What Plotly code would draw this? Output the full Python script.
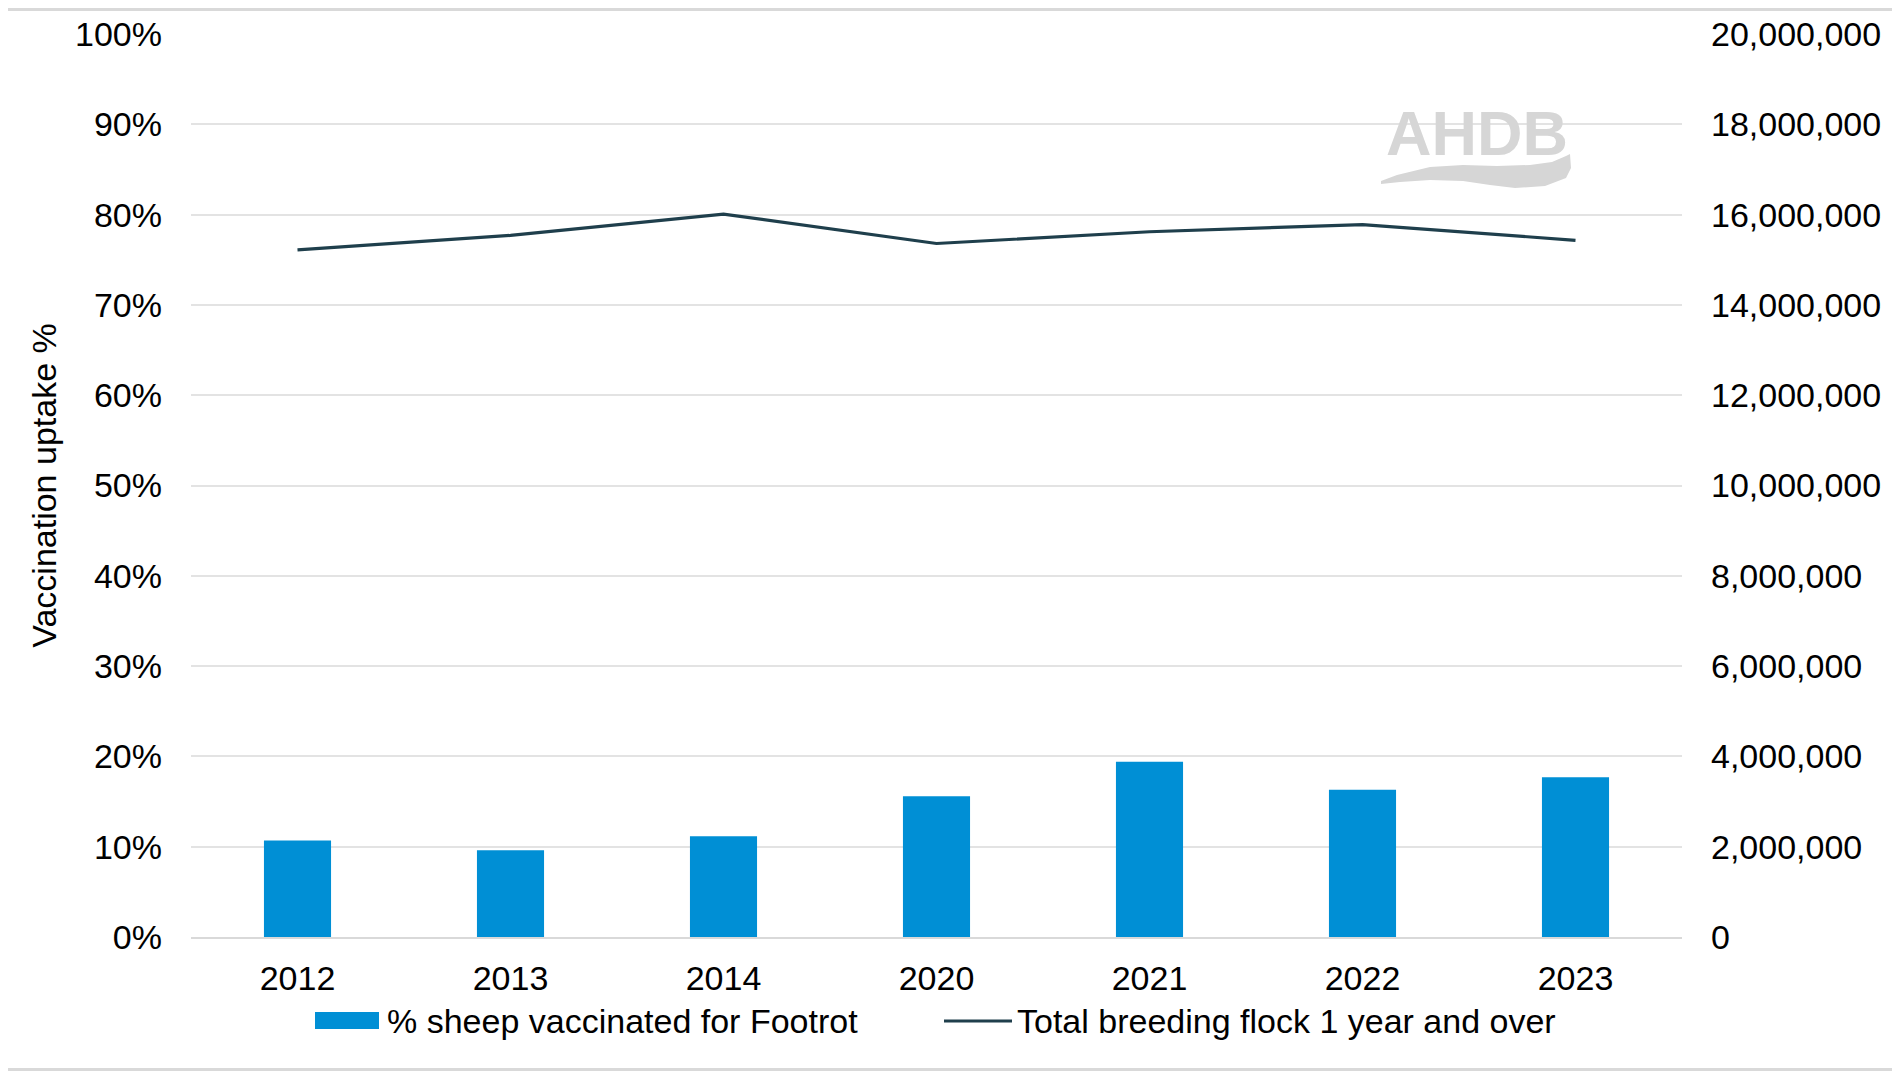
import plotly.graph_objects as go

# ---- data ----
years = ["2012", "2013", "2014", "2020", "2021", "2022", "2023"]
vaccinated_pct = [0.107, 0.096, 0.1115, 0.156, 0.194, 0.163, 0.177]
breeding_flock = [15220000, 15540000, 16010000, 15360000, 15620000, 15780000, 15430000]
bar_name = "% sheep vaccinated for Footrot"
line_name = "Total breeding flock 1 year and over"
y_title = "Vaccination uptake %"

# ---- layout constants (pixels, in screen coords of the 1900x1071 page) ----
OFF = 8  # page body margin
W, H = 1900 - OFF, 1071 - OFF
PLOT_L, PLOT_R, PLOT_T, PLOT_B = 191, 1682, 34, 937
L = PLOT_L - OFF
T = PLOT_T - OFF
PW, PH = PLOT_R - PLOT_L, PLOT_B - PLOT_T
R = W - L - PW
B = H - T - PH
BAR_COLOR = "#008FD5"
LINE_COLOR = "#1F3F4C"
GRID = "#E3E3E3"
FONT = "Liberation Sans, Arial, sans-serif"
FS = 34


def px(x):
    """screen x -> paper"""
    return (x - PLOT_L) / PW


def py(y):
    """screen y -> paper"""
    return (PLOT_B - y) / PH


fig = go.Figure()
fig.add_trace(go.Bar(x=years, y=vaccinated_pct, name=bar_name,
                     marker=dict(color=BAR_COLOR, line=dict(width=0)),
                     showlegend=False))
fig.add_trace(go.Scatter(x=years, y=breeding_flock, name=line_name, yaxis="y2",
                         mode="lines", line=dict(color=LINE_COLOR, width=3.2),
                         showlegend=False))

shapes = []
annotations = []

# logo background box (hides gridline)
shapes.append(dict(type="rect", xref="paper", yref="paper", layer="below",
                   x0=px(1367), x1=px(1581), y0=py(200), y1=py(95),
                   fillcolor="white", line=dict(width=0)))
annotations.append(dict(text="<b>AHDB</b>", xref="paper", yref="paper",
                        x=px(1477), y=py(133), xanchor="center", yanchor="middle",
                        showarrow=False,
                        font=dict(family=FONT, size=63, color="#D6D6D6")))
# swoosh of logo
pts_top = [(1381, 181), (1397, 175), (1430, 167), (1463, 165), (1497, 166),
           (1530, 165), (1552, 162), (1566, 156), (1570, 154)]
pts_bot = [(1571, 168), (1566, 178), (1545, 186), (1515, 188), (1490, 185),
           (1463, 181), (1430, 180), (1400, 182), (1381, 184)]
path = "M {},{} ".format(px(pts_top[0][0]), py(pts_top[0][1]))
path += " ".join("L {},{}".format(px(a), py(b)) for a, b in pts_top[1:])
path += " " + " ".join("L {},{}".format(px(a), py(b)) for a, b in pts_bot) + " Z"
shapes.append(dict(type="path", xref="paper", yref="paper", path=path,
                   fillcolor="#D6D6D6", line=dict(width=0), layer="above"))

# custom legend
leg_y = 1021
shapes.append(dict(type="rect", xref="paper", yref="paper",
                   x0=px(315), x1=px(379), y0=py(1029), y1=py(1012),
                   fillcolor=BAR_COLOR, line=dict(width=0)))
annotations.append(dict(text=bar_name, xref="paper", yref="paper",
                        x=px(385), y=py(leg_y), xanchor="left", yanchor="middle",
                        showarrow=False, font=dict(family=FONT, size=FS, color="#000")))
shapes.append(dict(type="line", xref="paper", yref="paper",
                   x0=px(944), x1=px(1012), y0=py(leg_y), y1=py(leg_y),
                   line=dict(color=LINE_COLOR, width=3.2)))
annotations.append(dict(text=line_name, xref="paper", yref="paper",
                        x=px(1015), y=py(leg_y), xanchor="left", yanchor="middle",
                        showarrow=False, font=dict(family=FONT, size=FS, color="#000")))

# outer border (top, right, bottom)
for (x0, y0, x1, y1) in [(OFF, OFF + 1.5, 1900, OFF + 1.5),
                         (1898.5, OFF, 1898.5, 1071),
                         (OFF, 1069.5, 1900, 1069.5)]:
    shapes.append(dict(type="line", xref="paper", yref="paper",
                       x0=px(x0), x1=px(x1), y0=py(y0), y1=py(y1),
                       line=dict(color="#D9D9D9", width=3)))

fig.update_layout(
    width=W, height=H,
    margin=dict(l=L, r=R, t=T, b=B, autoexpand=False),
    paper_bgcolor="white", plot_bgcolor="white",
    font=dict(family=FONT, size=FS, color="#000"),
    bargap=0.685,
    showlegend=False,
    shapes=shapes,
    annotations=annotations,
    xaxis=dict(type="category", showgrid=False, showline=True, linecolor="#D9D9D9",
               linewidth=2, ticks="", ticklabelstandoff=10,
               tickfont=dict(size=FS, color="#000")),
    yaxis=dict(range=[0, 1], dtick=0.1, tickformat=".0%", showgrid=True,
               gridcolor=GRID, gridwidth=2, zeroline=False, showline=False,
               ticks="", ticklabelstandoff=28, tickfont=dict(size=FS, color="#000"),
               title=dict(text=y_title, standoff=8, font=dict(size=FS, color="#000"))),
    yaxis2=dict(range=[0, 20000000], dtick=2000000, tickformat=",d", overlaying="y",
                side="right", showgrid=False, zeroline=False, showline=False,
                ticks="", ticklabelstandoff=28, tickfont=dict(size=FS, color="#000")),
)

fig.write_html("out.html")
